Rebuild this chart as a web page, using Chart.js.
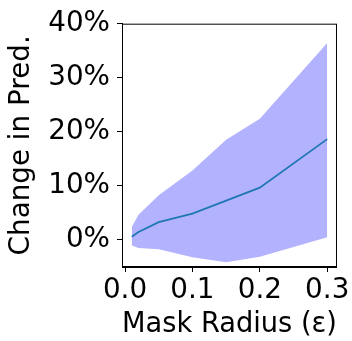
<!DOCTYPE html>
<html>
<head>
<meta charset="utf-8">
<script src="https://cdn.jsdelivr.net/npm/chart.js@4"></script>
<style>
  html, body { margin: 0; padding: 0; background: #fff; }
  #wrap { width: 352px; height: 341px; }
</style>
</head>
<body>
<div id="wrap"><canvas id="myChart" width="352" height="341"></canvas></div>
<script>
// valores
const radios = [0.01, 0.02, 0.05, 0.1, 0.15, 0.2, 0.3];
const media = [0.5, 1.4, 3.2, 4.8, 7.2, 9.6, 18.6];
const superior = [2.3, 4.6, 8.2, 12.8, 18.5, 22.4, 36.4];
const inferior = [-1.1, -1.6, -1.8, -3.3, -4.2, -3.2, 0.4];
const ticksX = [0, 0.1, 0.2, 0.3];
const ticksY = [0, 10, 20, 30, 40];

const fuente = "'DejaVu Sans', sans-serif";
const tam = 27.8;

const puntos = (ys) => radios.map((x, i) => ({ x: x, y: ys[i] }));

// marco completo como en matplotlib
const marco = {
    id: 'marco',
    afterDraw(chart) {
        const a = chart.chartArea;
        const ctx = chart.ctx;
        ctx.save();
        ctx.strokeStyle = '#000';
        ctx.lineWidth = 1;
        ctx.strokeRect(a.left + 0.5, a.top + 0.5, a.right - a.left - 1, a.bottom - a.top - 1);
        ctx.restore();
    }
};

const data = {
    datasets: [
        {
            label: 'superior',
            data: puntos(superior),
            borderWidth: 0,
            pointRadius: 0,
            backgroundColor: 'rgba(0, 0, 255, 0.3)',
            fill: '+1',
            order: 2
        },
        {
            label: 'inferior',
            data: puntos(inferior),
            borderWidth: 0,
            pointRadius: 0,
            fill: false,
            order: 2
        },
        {
            label: 'media',
            data: puntos(media),
            borderColor: '#1f77b4',
            borderWidth: 1.8,
            pointRadius: 0,
            fill: false,
            order: 1
        }
    ]
};

const config = {
    type: 'line',
    data,
    plugins: [marco],
    options: {
        responsive: false,
        animation: false,
        layout: { padding: { top: 21, right: 15, left: 0, bottom: 0 } },
        plugins: {
            legend: { display: false },
            tooltip: { enabled: false }
        },
        scales: {
            x: {
                type: 'linear',
                min: -0.0045,
                max: 0.3145,
                afterBuildTicks: (s) => { s.ticks = ticksX.map(v => ({ value: v })); },
                afterFit: (s) => { s.height = 74; },
                ticks: {
                    color: '#000',
                    font: { family: fuente, size: tam },
                    padding: 2,
                    maxRotation: 0,
                    autoSkip: false,
                    callback: (v) => v.toFixed(1)
                },
                grid: { display: true, drawOnChartArea: false, drawTicks: true, tickLength: 5, color: '#000' },
                border: { display: true, color: '#000' },
                title: {
                    display: true,
                    text: 'Mask Radius (ε)',
                    color: '#000',
                    font: { family: fuente, size: tam },
                    padding: { top: 0, bottom: 0 }
                }
            },
            y: {
                type: 'linear',
                min: -5.1,
                max: 40,
                afterBuildTicks: (s) => { s.ticks = ticksY.map(v => ({ value: v })); },
                afterFit: (s) => { s.width = 122; },
                ticks: {
                    color: '#000',
                    font: { family: fuente, size: tam },
                    padding: 7,
                    autoSkip: false,
                    callback: (v) => v + '%'
                },
                grid: { display: true, drawOnChartArea: false, drawTicks: true, tickLength: 5, color: '#000' },
                border: { display: true, color: '#000' },
                title: {
                    display: true,
                    text: 'Change in Pred.',
                    color: '#000',
                    font: { family: fuente, size: tam },
                    padding: { top: 5, bottom: 0 }
                }
            }
        }
    }
};

const ctx = document.getElementById('myChart');
const myChart = new Chart(ctx, config);
</script>
</body>
</html>
